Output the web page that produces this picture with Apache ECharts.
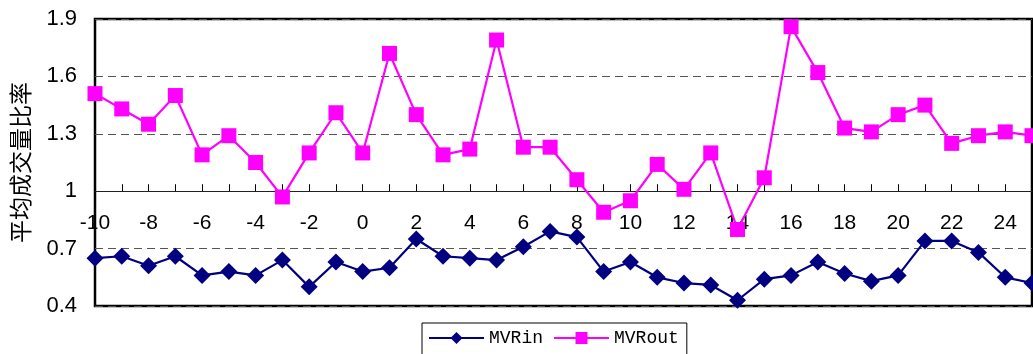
<!DOCTYPE html>
<html><head><meta charset="utf-8">
<script src="https://cdn.jsdelivr.net/npm/echarts@6/dist/echarts.min.js"></script>
<style>html,body{margin:0;padding:0;background:#fff}#c{width:1033px;height:354px}</style>
</head><body><div id="c"></div>
<script>
var categories = [];
for (var k = -10; k <= 25; k++) categories.push(String(k));
var mvrIn = [0.65,0.66,0.61,0.66,0.56,0.58,0.56,0.64,0.50,0.63,0.58,0.60,0.75,0.66,0.65,0.64,0.71,0.79,0.76,0.58,0.63,0.55,0.52,0.51,0.43,0.54,0.56,0.63,0.57,0.53,0.56,0.74,0.74,0.68,0.55,0.52];
var mvrOut = [1.51,1.43,1.35,1.50,1.19,1.29,1.15,0.97,1.20,1.41,1.20,1.72,1.40,1.19,1.22,1.79,1.23,1.23,1.06,0.89,0.95,1.14,1.01,1.20,0.80,1.07,1.86,1.62,1.33,1.31,1.40,1.45,1.25,1.29,1.31,1.29];
var yMin = 0.4, yMax = 1.9, yStep = 0.3, xCross = 1.0;
var yAxisName = '平均成交量比率';

var chart = echarts.init(document.getElementById('c'), null, {renderer: 'canvas'});
var gridTop = 19, gridBottom = 48, gridH = 354 - gridTop - gridBottom;
var crossOffset = -(xCross - yMin) / (yMax - yMin) * gridH;
chart.setOption({
  animation: false,
  grid: {left: 95, right: 1, top: gridTop, bottom: gridBottom, show: true, borderColor: '#000', borderWidth: 2.5, backgroundColor: 'transparent'},
  legend: {
    left: 422, top: 323, orient: 'horizontal',
    borderColor: '#000', borderWidth: 1, padding: [6, 8, 12, 6],
    itemWidth: 55, itemHeight: 15, itemGap: 10,
    textStyle: {fontFamily: 'Liberation Mono', fontSize: 18, color: '#000'},
    data: ['MVRin', 'MVRout']
  },
  xAxis: {
    type: 'category', data: categories, boundaryGap: false,
    position: 'bottom', offset: crossOffset,
    axisLine: {show: true, onZero: false, lineStyle: {color: '#222', width: 1}},
    axisTick: {show: true, inside: true, length: 7, interval: 0, lineStyle: {color: '#000'}},
    axisLabel: {interval: 1, margin: 22, fontFamily: 'Liberation Sans', fontSize: 21, color: '#000'},
    splitLine: {show: false}
  },
  yAxis: {
    type: 'value', min: yMin, max: yMax, interval: yStep,
    name: yAxisName, nameLocation: 'middle', nameGap: 63,
    nameTextStyle: {fontFamily: 'Noto Sans CJK SC', fontSize: 23, color: '#000'},
    axisLine: {show: false}, axisTick: {show: false},
    axisLabel: {margin: 18, fontFamily: 'Liberation Sans', fontSize: 22, color: '#000',
      formatter: function (v) { return String(Math.round(v * 10) / 10); }},
    splitLine: {show: true, lineStyle: {color: '#555', width: 1.2, type: [8, 5]}}
  },
  series: [
    {name: 'MVRin', type: 'line', data: mvrIn, symbol: 'diamond', symbolSize: 17,
     itemStyle: {color: '#000080'}, lineStyle: {color: '#000080', width: 2.2}, clip: false},
    {name: 'MVRout', type: 'line', data: mvrOut, symbol: 'rect', symbolSize: 15,
     itemStyle: {color: '#FF00FF'}, lineStyle: {color: '#FF00FF', width: 2.2}, clip: false}
  ]
});
</script></body></html>
